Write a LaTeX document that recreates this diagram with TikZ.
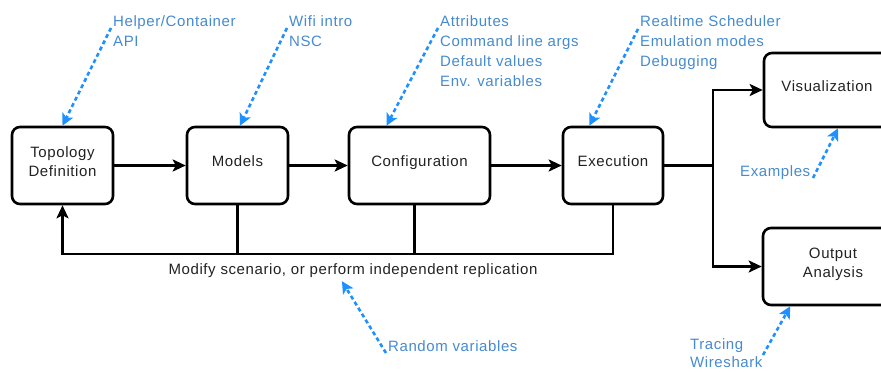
\documentclass[tikz,border=0pt]{standalone}
\usepackage{fontspec}
\setmainfont{Liberation Sans}[LetterSpace=4]
\usetikzlibrary{arrows.meta,calc}
\definecolor{tipblue}{RGB}{30,144,255}
\definecolor{noteblue}{RGB}{70,138,208}
\definecolor{ink}{RGB}{34,34,34}
\begin{document}
\begin{tikzpicture}[x=1pt,y=-1pt,
  stagebox/.style={draw=black,line width=2.6pt,rounded corners=8pt,minimum height=77pt,inner sep=0pt,align=center,font=\fontsize{15}{19}\selectfont,text=ink,execute at end node={\rule[-8pt]{0pt}{0pt}}},
  flow/.style={line width=2.6pt,-{Stealth[length=13pt,width=12pt,inset=3pt]}},
  bar/.style={line width=2.6pt},
  note/.style={anchor=north west,inner sep=0pt,align=left,text=noteblue,font=\fontsize{15}{20}\selectfont},
  hint/.style={draw=tipblue,line width=2.6pt,dash pattern=on 4pt off 3pt,-{Stealth[length=12pt,width=12pt,inset=3pt]}}]
\useasboundingbox (0,0) rectangle (881,372);
\clip (0,0) rectangle (881,372);
% stages
\node[stagebox,minimum width=101pt] (topo) at (62.5,165.5) {Topology\\Definition};
\node[stagebox,minimum width=101pt] (models) at (237.5,165.5) {Models};
\node[stagebox,minimum width=141pt] (conf) at (419.5,165.5) {Configuration};
\node[stagebox,minimum width=100pt] (exec) at (613,165.5) {Execution};
\node[stagebox,minimum width=126pt,minimum height=74pt] (vis) at (827,90) {Visualization};
\node[stagebox,minimum width=140pt] (out) at (833,266.5) {Output\\Analysis};
% main flow
\draw[flow] (topo.east) -- (models.west);
\draw[flow] (models.east) -- (conf.west);
\draw[flow] (conf.east) -- (exec.west);
\coordinate (split) at (713,165.5);
\draw[bar] (exec.east) -- (split);
\draw[flow] (split) |- (vis.west);
\draw[flow] (split) |- (out.west);
% feedback loop
\coordinate (loop) at (0,254);
\coordinate (confdrop) at ($(conf.south)+(-5,0)$);
\draw[flow] (exec.south) |- (topo.south |- loop) -- (topo.south);
\draw[bar] (models.south) -- (models.south |- loop);
\draw[bar] (confdrop) -- (confdrop |- loop);
\node[inner sep=0pt,text=ink,font=\fontsize{15}{19}\selectfont] (mod) at (353,271) {Modify scenario, or perform independent replication};
% notes
\node[note] (n1) at (113,15) {Helper/Container\\API};
\node[note] (n2) at (289,15) {Wifi intro\\NSC};
\node[note] (n3) at (440,15) {Attributes\\Command line args\\Default values\\Env. variables};
\node[note] (n4) at (640,15) {Realtime Scheduler\\Emulation modes\\Debugging};
\node[note] (n5) at (740,165) {Examples};
\node[note] (n6) at (388,340) {Random variables};
\node[note,font=\fontsize{15}{18}\selectfont] (n7) at (690,338) {Tracing\\Wireshark};
% note pointers
\coordinate (s1) at (111,28);
\coordinate (s2) at (287,28);
\coordinate (s3) at (438,28);
\coordinate (s4) at (638,29);
\coordinate (s5) at (813,178);
\coordinate (s6) at (386,353);
\coordinate (s7) at (763,355);
\draw[hint] (s1) -- (topo.north);
\draw[hint] (s2) -- ($(models.north)+(2.5,0)$);
\draw[hint] (s3) -- ($(conf.north west)!0.27!(conf.north east)$);
\draw[hint] (s4) -- ($(exec.north west)!0.27!(exec.north east)$);
\draw[hint] (s5) -- ($(vis.south)+(11,0)$);
\draw[hint] (s6) -- ($(mod.south west)!0.47!(mod.south east)+(0,3)$);
\draw[hint] (s7) -- ($(out.south west)!0.2!(out.south east)$);
\end{tikzpicture}
\end{document}
